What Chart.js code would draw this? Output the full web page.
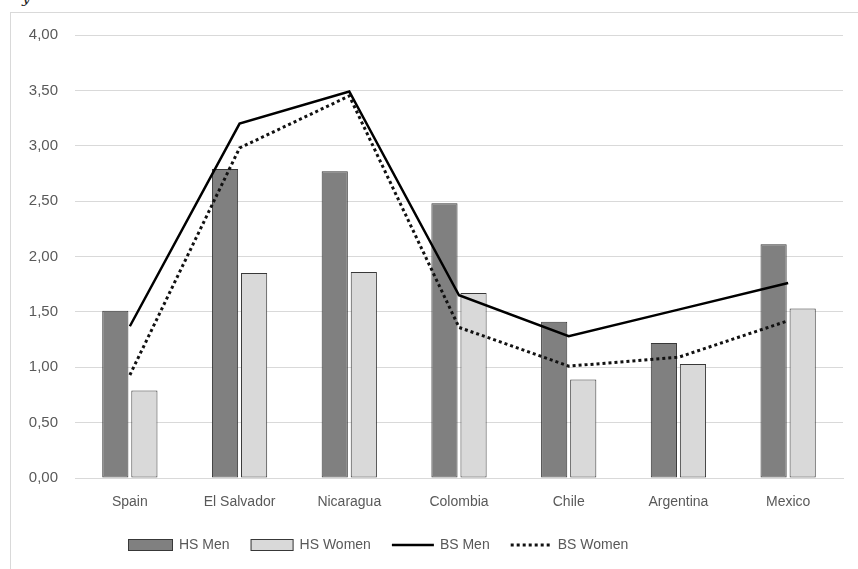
<!DOCTYPE html>
<html>
<head>
<meta charset="utf-8">
<script src="https://cdn.jsdelivr.net/npm/chart.js@4/dist/chart.umd.min.js"></script>
<style>
  html, body { margin: 0; padding: 0; background: #fff; overflow: hidden; }
  #wrap { position: relative; width: 858px; height: 569px; }
  #frame { position: absolute; left: 10px; top: 12px; width: 900px; height: 600px;
           border: 1px solid #d9d9d9; box-sizing: border-box; }
  #ylab { position: absolute; left: 22px; top: -11px; font: italic 15px "DejaVu Serif", serif; color: #222; }
  #c { position: absolute; left: 0; top: 0; }
</style>
</head>
<body>
<div id="wrap">
  <div id="frame"></div>
  <div id="ylab">y</div>
  <canvas id="c" width="858" height="569"></canvas>
</div>
<script>
// Countries on the x axis
const countries = ['Spain', 'El Salvador', 'Nicaragua', 'Colombia', 'Chile', 'Argentina', 'Mexico'];

// Series values
const hsMen   = [1.51, 2.79, 2.77, 2.48, 1.41, 1.22, 2.11];
const hsWomen = [0.79, 1.85, 1.86, 1.67, 0.89, 1.03, 1.53];
const bsMen   = [1.37, 3.20, 3.49, 1.65, 1.28, 1.52, 1.76];
const bsWomen = [0.93, 2.98, 3.45, 1.36, 1.01, 1.09, 1.42];

// Y axis tick values
const yTicks = [0, 0.5, 1, 1.5, 2, 2.5, 3, 3.5, 4];

const textGray = '#595959';
const gridGray = '#d9d9d9';
const legendFont = '14px "Liberation Sans", Arial, sans-serif';

// Legend row drawn under the axis: filled boxes for bars, line samples (with dash) for lines
const legendRow = {
  id: 'legendRow',
  afterDraw(chart) {
    const ctx = chart.ctx;
    const y = 545;
    const sampleW = [45, 43, 42, 41];
    let x = 128;
    ctx.save();
    ctx.font = legendFont;
    ctx.textBaseline = 'middle';
    chart.data.datasets.forEach((ds, i) => {
      const isBar = ds.type === 'bar';
      const w = sampleW[i];
      if (isBar) {
        ctx.fillStyle = ds.backgroundColor;
        ctx.strokeStyle = ds.borderColor;
        ctx.lineWidth = 1;
        ctx.setLineDash([]);
        ctx.fillRect(x, y - 6, w, 12);
        ctx.strokeRect(x + 0.5, y - 5.5, w - 1, 11);
      } else {
        ctx.strokeStyle = ds.borderColor;
        ctx.lineWidth = ds.borderWidth;
        ctx.setLineDash(ds.borderDash || []);
        ctx.beginPath();
        ctx.moveTo(x, y);
        ctx.lineTo(x + w, y);
        ctx.stroke();
      }
      ctx.setLineDash([]);
      ctx.fillStyle = textGray;
      const tx = x + w + 6;
      ctx.fillText(ds.label, tx, y);
      x = tx + ctx.measureText(ds.label).width + 21;
    });
    ctx.restore();
  }
};

new Chart(document.getElementById('c'), {
  data: {
    labels: countries,
    datasets: [
      { type: 'bar', label: 'HS Men', data: hsMen, backgroundColor: '#808080',
        borderColor: '#383838', borderWidth: 1, borderSkipped: false, order: 2,
        categoryPercentage: 0.53, barPercentage: 0.9 },
      { type: 'bar', label: 'HS Women', data: hsWomen, backgroundColor: '#d9d9d9',
        borderColor: '#383838', borderWidth: 1, borderSkipped: false, order: 2,
        categoryPercentage: 0.53, barPercentage: 0.9 },
      { type: 'line', label: 'BS Men', data: bsMen, borderColor: '#000',
        borderWidth: 2.5, pointRadius: 0, tension: 0, order: 1 },
      { type: 'line', label: 'BS Women', data: bsWomen, borderColor: '#111',
        borderWidth: 3, borderDash: [3, 3], pointRadius: 0, tension: 0, order: 1 }
    ]
  },
  options: {
    responsive: false,
    animation: false,
    layout: { padding: { left: 0, right: 15, top: 35, bottom: 47 } },
    plugins: {
      tooltip: { enabled: false },
      legend: { display: false }
    },
    scales: {
      x: {
        grid: { display: false, drawTicks: false },
        border: { display: true, color: gridGray, width: 1 },
        ticks: { color: textGray, padding: 16,
                 font: { family: '"Liberation Sans", Arial, sans-serif', size: 14 } },
        afterFit: (s) => { s.height = 44; }
      },
      y: {
        min: 0, max: 4,
        afterBuildTicks: (s) => { s.ticks = yTicks.map(v => ({ value: v })); },
        grid: { color: gridGray, lineWidth: 1, drawTicks: false },
        border: { display: false },
        ticks: { color: textGray, padding: 17,
                 font: { family: '"Liberation Sans", Arial, sans-serif', size: 15 },
                 callback: (v) => Number(v).toFixed(2).replace('.', ',') },
        afterFit: (s) => { s.width = 75; }
      }
    }
  },
  plugins: [legendRow]
});
</script>
</body>
</html>
